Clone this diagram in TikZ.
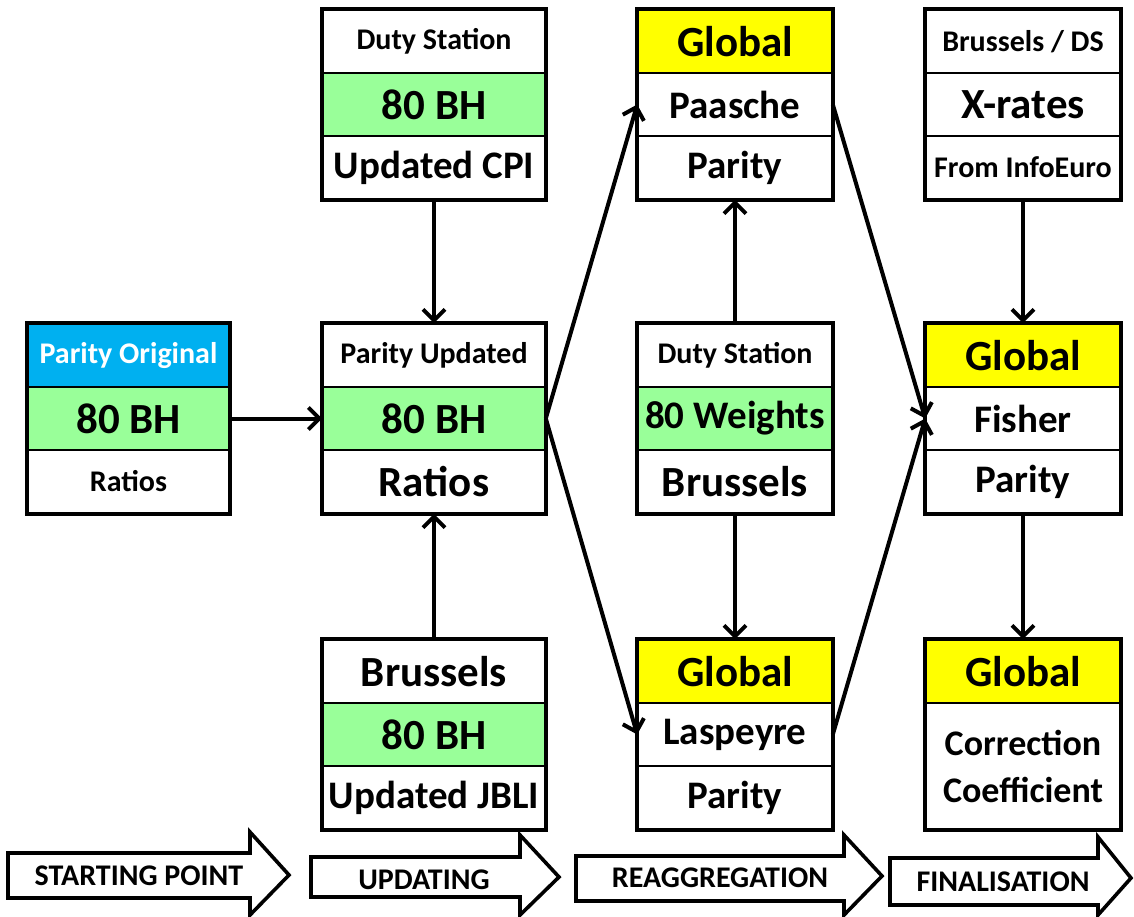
\documentclass[tikz,border=0pt]{standalone}
\usepackage{fontspec}
\setmainfont{Carlito}
\usetikzlibrary{arrows.meta}
\definecolor{bhgreen}{HTML}{99FF99}
\definecolor{hdblue}{HTML}{00B0F0}
\definecolor{hdyellow}{HTML}{FFFF00}
\begin{document}
\begin{tikzpicture}[x=1pt,y=-1pt,
 cell/.style={draw,line width=1.6pt,inner sep=0pt,minimum height=63},
 sm/.style={font=\fontsize{30}{34}\selectfont\bfseries},
 md/.style={font=\fontsize{39}{44}\selectfont\bfseries},
 lg/.style={font=\fontsize{43}{48}\selectfont\bfseries},
 frame/.style={draw,line width=4.5pt},
 conn/.style={line width=4pt,-{Straight Barb[length=11pt,width=22pt]}},
 phase/.style={draw,line width=3.6pt,fill=white,line join=miter},
 phasetext/.style={font=\fontsize{30}{34}\selectfont\bfseries}]
 \useasboundingbox (0,0) rectangle (1134,917);
 % starting point
 \node[cell,sm,minimum width=201,fill=hdblue,text=white] (po1) at (128.5,355.5) {Parity Original};
 \node[cell,lg,minimum width=201,fill=bhgreen] (po2) at (128.5,418.5) {80 BH};
 \node[cell,sm,minimum width=201] (po3) at (128.5,481.5) {Ratios};
 \draw[frame] (po1.north west) rectangle (po3.south east);
 % updating
 \node[cell,sm,minimum width=222] (dc1) at (434,41.5) {Duty Station};
 \node[cell,lg,minimum width=222,fill=bhgreen] (dc2) at (434,104.5) {80 BH};
 \node[cell,md,minimum width=222] (dc3) at (434,167.5) {Updated CPI};
 \draw[frame] (dc1.north west) rectangle (dc3.south east);
 \node[cell,sm,minimum width=222] (pu1) at (434,355.5) {Parity Updated};
 \node[cell,lg,minimum width=222,fill=bhgreen] (pu2) at (434,418.5) {80 BH};
 \node[cell,lg,minimum width=222] (pu3) at (434,481.5) {Ratios};
 \draw[frame] (pu1.north west) rectangle (pu3.south east);
 \node[cell,lg,minimum width=222] (bj1) at (434,671.5) {Brussels};
 \node[cell,lg,minimum width=222,fill=bhgreen] (bj2) at (434,734.5) {80 BH};
 \node[cell,md,minimum width=222] (bj3) at (434,797.5) {Updated JBLI};
 \draw[frame] (bj1.north west) rectangle (bj3.south east);
 % reaggregation
 \node[cell,lg,minimum width=194,fill=hdyellow] (pa1) at (735,41.5) {Global};
 \node[cell,md,minimum width=194] (pa2) at (735,104.5) {Paasche};
 \node[cell,md,minimum width=194] (pa3) at (735,167.5) {Parity};
 \draw[frame] (pa1.north west) rectangle (pa3.south east);
 \node[cell,sm,minimum width=194] (dw1) at (735,355.5) {Duty Station};
 \node[cell,md,minimum width=194,fill=bhgreen] (dw2) at (735,418.5) {80 Weights};
 \node[cell,lg,minimum width=194] (dw3) at (735,481.5) {Brussels};
 \draw[frame] (dw1.north west) rectangle (dw3.south east);
 \node[cell,lg,minimum width=194,fill=hdyellow] (la1) at (735,671.5) {Global};
 \node[cell,md,minimum width=194] (la2) at (735,734.5) {Laspeyre};
 \node[cell,md,minimum width=194] (la3) at (735,797.5) {Parity};
 \draw[frame] (la1.north west) rectangle (la3.south east);
 % finalisation
 \node[cell,sm,minimum width=194] (xr1) at (1023,41.5) {Brussels / DS};
 \node[cell,lg,minimum width=194] (xr2) at (1023,104.5) {X-rates};
 \node[cell,sm,minimum width=194] (xr3) at (1023,167.5) {From InfoEuro};
 \draw[frame] (xr1.north west) rectangle (xr3.south east);
 \node[cell,lg,minimum width=194,fill=hdyellow] (fi1) at (1023,355.5) {Global};
 \node[cell,md,minimum width=194] (fi2) at (1023,418.5) {Fisher};
 \node[cell,md,minimum width=194] (fi3) at (1023,481.5) {Parity};
 \draw[frame] (fi1.north west) rectangle (fi3.south east);
 \node[cell,lg,minimum width=194,fill=hdyellow] (cc1) at (1023,671.5) {Global};
 \node[cell,font=\fontsize{36}{47}\selectfont\bfseries,minimum width=194,minimum height=126,align=center] (cc2) at (1023,766) {Correction\\Coefficient};
 \draw[frame] (cc1.north west) rectangle (cc2.south east);
 % connectors
 \draw[conn] (po2.east) -- (pu2.west);
 \draw[conn] (dc3.south) -- (pu1.north);
 \draw[conn] (bj1.north) -- (pu3.south);
 \draw[conn] (pu2.east) -- (pa2.west);
 \draw[conn] (pu2.east) -- (la2.west);
 \draw[conn] (dw1.north) -- (pa3.south);
 \draw[conn] (dw3.south) -- (la1.north);
 \draw[conn] (pa2.east) -- (fi2.west);
 \draw[conn] (la2.east) -- (fi2.west);
 \draw[conn] (xr3.south) -- (fi1.north);
 \draw[conn] (fi3.south) -- (cc1.north);
 % phases
 \draw[phase] (8,853) -- (250,853) -- (250,832) -- (289,875) -- (250,915) -- (250,898) -- (8,898) -- cycle;
 \node[phasetext] (sp) at (139,876) {STARTING POINT};
 \draw[phase] (311,857) -- (520,857) -- (520,835) -- (559,877) -- (520,915) -- (520,897) -- (311,897) -- cycle;
 \node[phasetext] (up) at (424,880) {UPDATING};
 \draw[phase] (576,856) -- (844,856) -- (844,835) -- (882,876) -- (844,915) -- (844,901) -- (576,901) -- cycle;
 \node[phasetext] (re) at (720,878) {REAGGREGATION};
 \draw[phase] (890,858) -- (1098,858) -- (1098,837) -- (1131,878) -- (1098,915) -- (1098,905) -- (890,905) -- cycle;
 \node[phasetext] (fn) at (1003,882) {FINALISATION};
\end{tikzpicture}
\end{document}
